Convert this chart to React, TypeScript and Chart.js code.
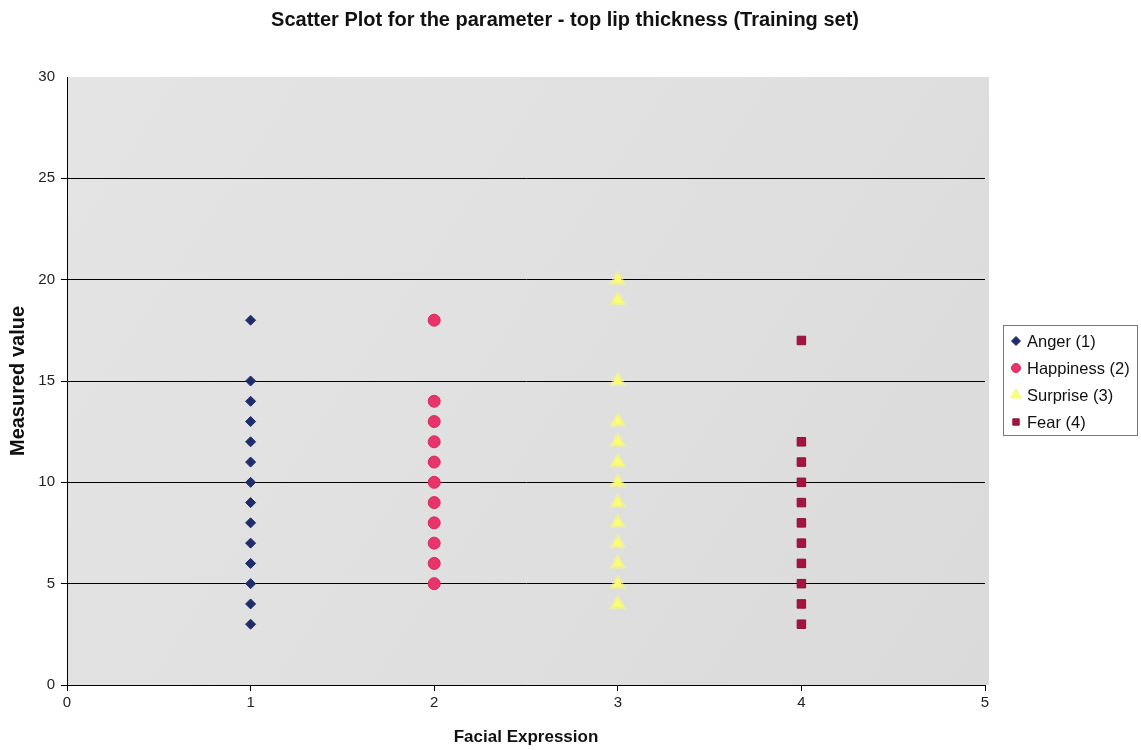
import React, { useEffect, useRef } from "react";
import { Chart, registerables } from "chart.js";
import { drawPoint } from "chart.js/helpers";

Chart.register(...registerables);

const angerValues = [18, 15, 14, 13, 12, 11, 10, 9, 8, 7, 6, 5, 4, 3];
const happinessValues = [18, 14, 13, 12, 11, 10, 9, 8, 7, 6, 5];
const surpriseValues = [20, 19, 15, 13, 12, 11, 10, 9, 8, 7, 6, 5, 4];
const fearValues = [17, 12, 11, 10, 9, 8, 7, 6, 5, 4, 3];

const seriesNames = ["Anger (1)", "Happiness (2)", "Surprise (3)", "Fear (4)"];
const seriesX = [1, 2, 3, 4];
const seriesColors = ["#1f2d6b", "#e8336b", "#ffff6e", "#a3153f"];
const seriesBorders = ["#1f2d6b", "#d82a5e", "rgba(250,250,120,0.55)", "#8a1035"];
const seriesBorderWidths = [1, 1, 4, 1];
const seriesShapes = ["rectRot", "circle", "triangle", "rect"];
const seriesRadius = [5, 6, 6, 6];

const titleText = "Scatter Plot for the parameter - top lip thickness (Training set)";
const xTitle = "Facial Expression";
const yTitle = "Measured value";

const FONT = "'Liberation Sans', Arial, sans-serif";

export default function App() {
  const canvasRef = useRef<HTMLCanvasElement | null>(null);

  useEffect(() => {
    document.body.style.margin = "0";
    const canvas = canvasRef.current;
    if (!canvas) return;
    const allValues = [angerValues, happinessValues, surpriseValues, fearValues];
    const datasets = allValues.map((vals, i) => ({
      label: seriesNames[i],
      data: vals.map((v) => ({ x: seriesX[i], y: v })),
      pointStyle: seriesShapes[i] as any,
      pointRadius: seriesRadius[i],
      backgroundColor: seriesColors[i],
      borderColor: seriesBorders[i],
      borderWidth: seriesBorderWidths[i],
      showLine: false,
    }));

    const bgPlugin = {
      id: "plotBg",
      beforeDraw(chart: any) {
        const { ctx, chartArea } = chart;
        const g = ctx.createLinearGradient(chartArea.left, chartArea.top, chartArea.right, chartArea.bottom);
        g.addColorStop(0, "#e4e4e4");
        g.addColorStop(0.5, "#e0e0e0");
        g.addColorStop(1, "#dadada");
        ctx.save();
        ctx.fillStyle = g;
        ctx.fillRect(chartArea.left, chartArea.top, chartArea.right - chartArea.left + 4, chartArea.bottom - chartArea.top);
        ctx.fillStyle = "#111111";
        ctx.font = `bold 20px ${FONT}`;
        ctx.textAlign = "center";
        ctx.textBaseline = "middle";
        ctx.fillText(titleText, 565, 20);
        ctx.restore();
      },
    };

    const legendPlugin = {
      id: "boxLegend",
      afterDraw(chart: any) {
        const ctx = chart.ctx;
        const x0 = 1003, y0 = 325, w = 134, h = 110;
        ctx.save();
        ctx.fillStyle = "#ffffff";
        ctx.fillRect(x0, y0, w, h);
        ctx.strokeStyle = "#777777";
        ctx.lineWidth = 1;
        ctx.strokeRect(x0 + 0.5, y0 + 0.5, w, h);
        ctx.font = `16.5px ${FONT}`;
        ctx.textBaseline = "middle";
        ctx.textAlign = "left";
        for (let i = 0; i < seriesNames.length; i++) {
          const cy = y0 + 16 + i * 27;
          ctx.fillStyle = seriesColors[i];
          ctx.strokeStyle = i === 2 ? "#f4f48a" : seriesBorders[i];
          ctx.lineWidth = 1;
          drawPoint(ctx, { pointStyle: seriesShapes[i], radius: i === 2 ? 6 : 4.5, borderWidth: 1, rotation: 0 } as any, x0 + 13, cy);
          ctx.fillStyle = "#111111";
          ctx.fillText(seriesNames[i], x0 + 24, cy + 1);
        }
        ctx.restore();
      },
    };

    const chart = new Chart(canvas, {
      type: "scatter",
      data: { datasets },
      options: {
        animation: false,
        responsive: false,
        layout: { padding: { left: 0, right: 156, top: 77, bottom: 0 } },
        plugins: {
          legend: { display: false },
          tooltip: { enabled: false },
          title: { display: false },
        },
        scales: {
          x: {
            type: "linear",
            min: 0,
            max: 5,
            ticks: { stepSize: 1, color: "#222222", font: { family: FONT, size: 15 }, padding: 3 },
            grid: { drawOnChartArea: false, drawTicks: true, tickLength: 6, color: "#000000" },
            border: { display: true, color: "#000000", width: 1 },
            title: {
              display: true,
              text: xTitle,
              color: "#111111",
              font: { family: FONT, size: 17, weight: "bold" },
              padding: { top: 0, bottom: 2 },
            },
            afterFit(scale: any) {
              scale.height = 65;
            },
          },
          y: {
            type: "linear",
            min: 0,
            max: 30,
            ticks: { stepSize: 5, color: "#222222", font: { family: FONT, size: 15 }, padding: 6 },
            grid: {
              drawOnChartArea: true,
              drawTicks: true,
              tickLength: 6,
              color: (c: any) => (c.tick && c.tick.value === 30 ? "rgba(0,0,0,0)" : "#000000"),
            },
            border: { display: true, color: "#000000", width: 1 },
            title: {
              display: true,
              text: yTitle,
              color: "#111111",
              font: { family: FONT, size: 20, weight: "bold" },
              padding: { top: 6, bottom: 0 },
            },
            afterFit(scale: any) {
              scale.width = 67;
            },
          },
        },
      } as any,
      plugins: [bgPlugin, legendPlugin],
    });
    return () => chart.destroy();
  }, []);

  return (
    <div style={{ width: 1141, height: 750, background: "#ffffff" }}>
      <canvas ref={canvasRef} width={1141} height={750} style={{ display: "block" }} />
    </div>
  );
}
